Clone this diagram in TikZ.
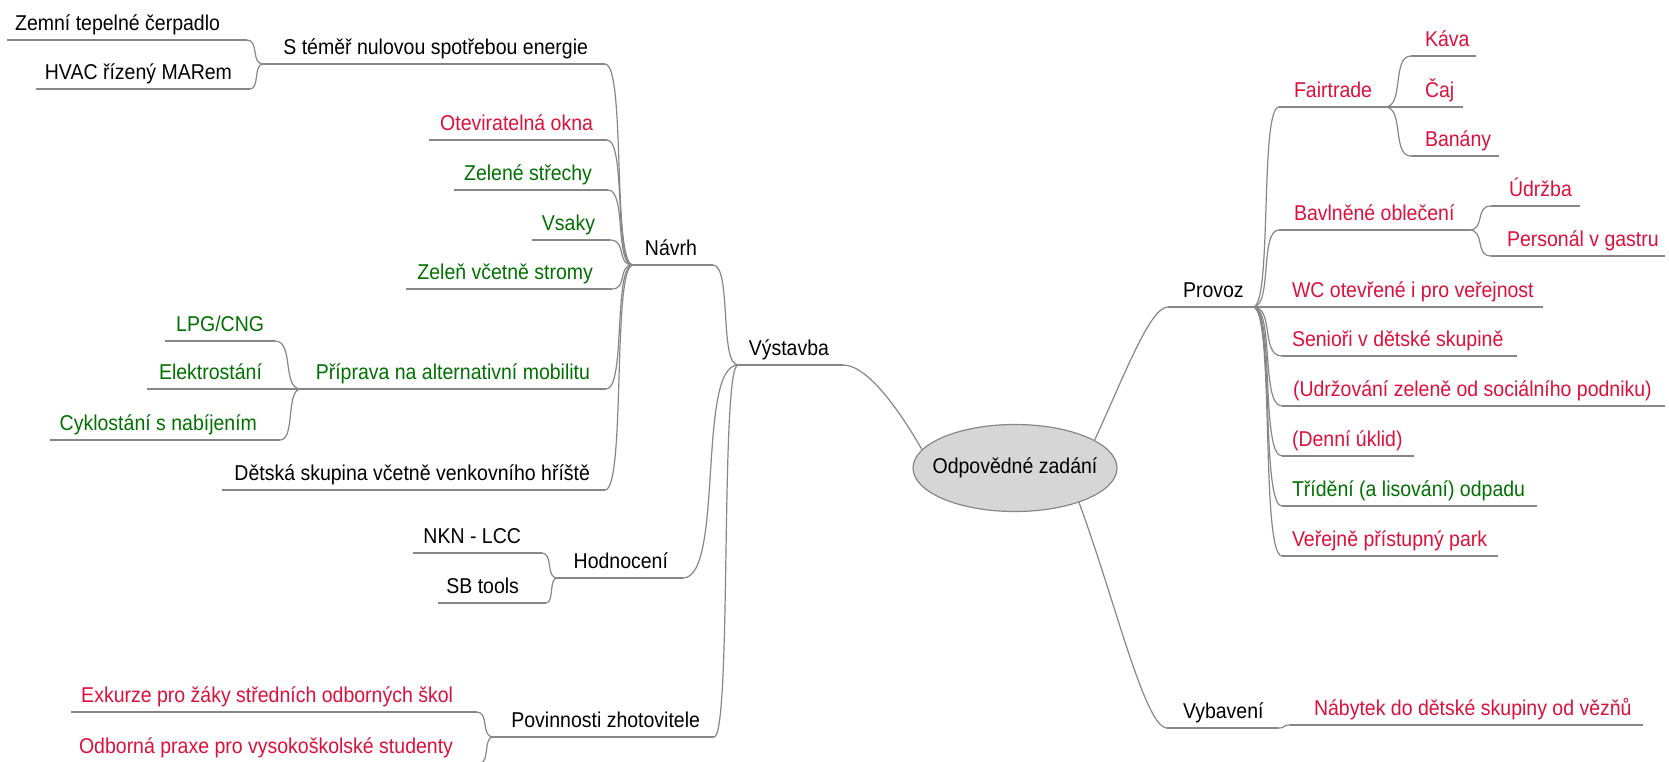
\documentclass[tikz,border=0pt]{standalone}
\usepackage{fontspec}
\setmainfont{Liberation Sans}
\usetikzlibrary{calc,shapes.geometric}
\definecolor{mred}{RGB}{220,16,60}
\definecolor{mgreen}{RGB}{0,112,0}
\definecolor{mblack}{RGB}{0,0,0}
\definecolor{lnc}{RGB}{135,135,135}
\definecolor{rootfill}{RGB}{214,214,214}
\tikzset{
  lbl/.style={inner sep=0pt, outer sep=0pt, font=\fontsize{19.5}{22}\selectfont},
  link/.style={draw=lnc, line width=1.2pt},
}
\newcommand\leaf[8]{%
  \node[lbl,text=#2,anchor=#4] (#1) at (#5,#8-10) {\scalebox{1}[1.1]{#3}};
  \coordinate (#1-a) at (#6,#8);
  \coordinate (#1-b) at (#7,#8);
  \draw[link] (#1-a) -- (#1-b);
}
\newcommand\conn[2]{\draw[link] let \p1=(#1), \p2=(#2) in (\p1) .. controls ({\x1+0.75*(\x2-\x1)},\y1) and ({\x1+0.25*(\x2-\x1)},\y2) .. (\p2);}
\begin{document}
\begin{tikzpicture}[x=1pt,y=-1pt]
\useasboundingbox (0,0) rectangle (1669,761);
\clip (0,0) rectangle (1669,761);
\fill[white] (0,0) rectangle (1669,761);

% root
\node[ellipse, draw=lnc, fill=rootfill, line width=1.2pt, minimum width=204pt, minimum height=87pt,
      inner sep=0pt, outer sep=0pt] (root) at (1015,468) {};
\node[lbl] (roottext) at (root.center) {\scalebox{1}[1.1]{Odpovědné zadání}};

% ---------- left side ----------
\leaf{vys}{mblack}{Výstavba}{base east}{829}{738}{843}{365}
\leaf{nav}{mblack}{Návrh}{base east}{697}{633}{713}{265}
\leaf{ste}{mblack}{S téměř nulovou spotřebou energie}{base east}{588}{263}{605}{64}
\leaf{zem}{mblack}{Zemní tepelné čerpadlo}{base east}{220}{7}{247}{40}
\leaf{hvac}{mblack}{HVAC řízený MARem}{base east}{232}{36}{250}{89}
\leaf{otev}{mred}{Oteviratelná okna}{base east}{593}{429}{607}{140}
\leaf{zst}{mgreen}{Zelené střechy}{base east}{592}{454}{608}{190}
\leaf{vsa}{mgreen}{Vsaky}{base east}{595}{532}{610}{240}
\leaf{zel}{mgreen}{Zeleň včetně stromy}{base east}{593}{406}{612}{289}
\leaf{pri}{mgreen}{Příprava na alternativní mobilitu}{base east}{590}{301}{606}{389}
\leaf{lpg}{mgreen}{LPG/CNG}{base east}{264}{165}{275}{341}
\leaf{ele}{mgreen}{Elektrostání}{base east}{262}{147}{301}{389}
\leaf{cyk}{mgreen}{Cyklostání s nabíjením}{base east}{257}{50}{280}{440}
\leaf{det}{mblack}{Dětská skupina včetně venkovního hříště}{base east}{590}{222}{605}{490}
\leaf{hod}{mblack}{Hodnocení}{base east}{668}{557}{683}{578}
\leaf{nkn}{mblack}{NKN - LCC}{base east}{521}{413}{542}{553}
\leaf{sbt}{mblack}{SB tools}{base east}{519}{438}{546}{603}
\leaf{pov}{mblack}{Povinnosti zhotovitele}{base east}{700}{493}{714}{737}
\leaf{exk}{mred}{Exkurze pro žáky středních odborných škol}{base east}{453}{71}{477}{712}
\leaf{odb}{mred}{Odborná praxe pro vysokoškolské studenty}{base east}{453}{71}{480}{763}

\conn{zem-b}{ste-a}
\conn{hvac-b}{ste-a}
\conn{ste-b}{nav-a}
\conn{otev-b}{nav-a}
\conn{zst-b}{nav-a}
\conn{vsa-b}{nav-a}
\conn{zel-b}{nav-a}
\conn{pri-b}{nav-a}
\conn{det-b}{nav-a}
\conn{lpg-b}{pri-a}
\conn{cyk-b}{pri-a}
\conn{nav-b}{vys-a}
\conn{hod-b}{vys-a}
\conn{pov-b}{vys-a}
\conn{nkn-b}{hod-a}
\conn{sbt-b}{hod-a}
\conn{exk-b}{pov-a}
\conn{odb-b}{pov-a}
\draw[link] (vys-b) .. controls (870,365) and (905,420) .. (root.169);

% ---------- right side ----------
\leaf{prov}{mblack}{Provoz}{base west}{1183}{1168}{1253}{307}
\leaf{fair}{mred}{Fairtrade}{base west}{1294}{1279}{1385}{107}
\leaf{kava}{mred}{Káva}{base west}{1425}{1411}{1476}{56}
\leaf{caj}{mred}{Čaj}{base west}{1425}{1385}{1463}{107}
\leaf{ban}{mred}{Banány}{base west}{1425}{1411}{1499}{156}
\leaf{bav}{mred}{Bavlněné oblečení}{base west}{1294}{1279}{1469}{230}
\leaf{udr}{mred}{Údržba}{base west}{1509}{1491}{1580}{206}
\leaf{pers}{mred}{Personál v gastru}{base west}{1507}{1491}{1665}{256}
\leaf{wc}{mred}{WC otevřené i pro veřejnost}{base west}{1292}{1253}{1543}{307}
\leaf{sen}{mred}{Senioři v dětské skupině}{base west}{1292}{1282}{1517}{356}
\leaf{udz}{mred}{(Udržování zeleně od sociálního podniku)}{base west}{1293}{1282}{1665}{406}
\leaf{den}{mred}{(Denní úklid)}{base west}{1292}{1282}{1414}{456}
\leaf{tri}{mgreen}{Třídění (a lisování) odpadu}{base west}{1292}{1282}{1537}{506}
\leaf{ver}{mred}{Veřejně přístupný park}{base west}{1292}{1282}{1498}{556}
\leaf{vyb}{mblack}{Vybavení}{base west}{1183}{1167}{1278}{728}
\leaf{nab}{mred}{Nábytek do dětské skupiny od vězňů}{base west}{1314}{1290}{1643}{725}

\conn{prov-b}{fair-a}
\conn{prov-b}{bav-a}
\conn{prov-b}{sen-a}
\conn{prov-b}{udz-a}
\conn{prov-b}{den-a}
\conn{prov-b}{tri-a}
\conn{prov-b}{ver-a}
\conn{fair-b}{kava-a}
\conn{fair-b}{ban-a}
\conn{bav-b}{udr-a}
\conn{bav-b}{pers-a}
\conn{vyb-b}{nab-a}
\draw[link] (root.19) .. controls (1125,374) and (1150,307) .. (prov-a);
\draw[link] (root.332) .. controls (1115,600) and (1145,728) .. (vyb-a);
\end{tikzpicture}
\end{document}
